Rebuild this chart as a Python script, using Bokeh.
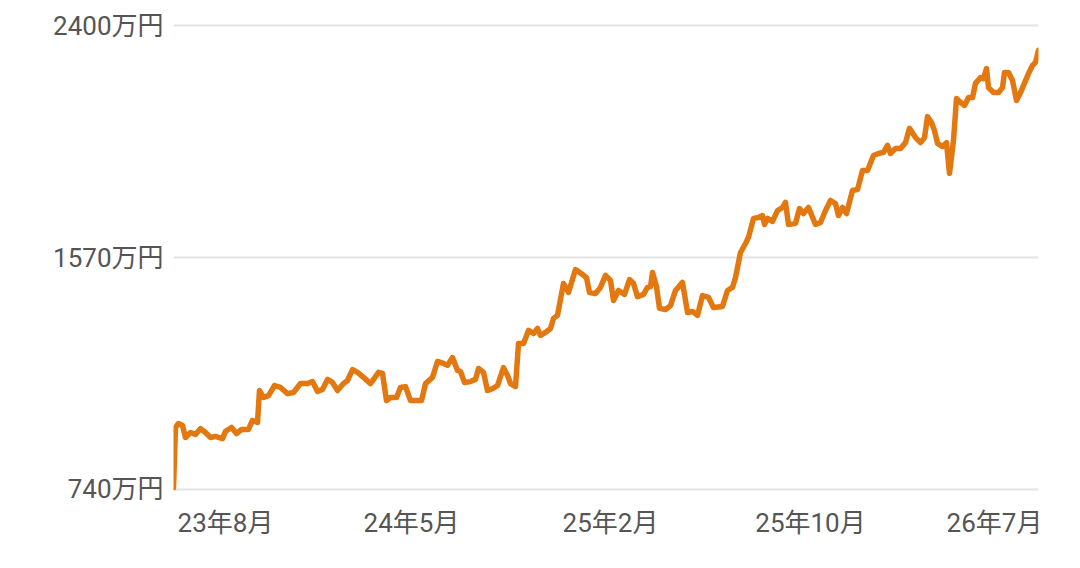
from bokeh.plotting import figure
from bokeh.models import Range1d, FixedTicker, ColumnDataSource
from bokeh.embed import file_html
from bokeh.resources import INLINE

# time index (steps from start of series)
t_a = [0, 2, 5, 9, 12, 17, 22, 27, 32, 37, 42, 49, 52, 58, 63, 68, 75, 79, 84, 86,
       90, 95, 101, 107, 114, 120, 127, 134, 139, 144, 149, 154, 159, 164, 170, 174, 179, 184, 190]
v_a = [747, 962, 976, 969, 926, 944, 937, 958, 944, 926, 930, 922, 948, 962, 940, 955, 955, 987, 980, 1094,
       1069, 1076, 1112, 1105, 1083, 1087, 1119, 1119, 1126, 1091, 1098, 1134, 1123, 1094, 1119, 1130, 1169, 1159, 1141]

t_b = [197, 205, 209, 213, 217, 223, 227, 232, 237, 242, 248, 252, 259, 264, 270, 274, 279, 284, 287, 291,
       297, 302, 305, 310, 314, 319, 324, 330, 334, 337, 342, 345, 350, 355, 360, 364, 367, 372, 377, 380]
v_b = [1119, 1159, 1155, 1058, 1069, 1069, 1105, 1108, 1058, 1058, 1058, 1119, 1141, 1198, 1191, 1184, 1212, 1166, 1162, 1123,
       1126, 1134, 1173, 1159, 1094, 1101, 1112, 1176, 1148, 1119, 1108, 1262, 1262, 1309, 1298, 1316, 1291, 1302, 1316, 1352]

t_c = [384, 390, 395, 402, 409, 413, 416, 422, 427, 432, 437, 440, 445, 451, 456, 460, 464, 470, 474, 477,
       479, 483, 486, 492, 497, 502, 509, 514, 519, 524, 529, 535, 540, 549, 554, 559, 562, 567, 572]
v_c = [1363, 1477, 1445, 1527, 1509, 1498, 1445, 1441, 1463, 1506, 1488, 1416, 1452, 1438, 1491, 1477, 1430, 1438, 1463, 1466,
       1516, 1466, 1388, 1384, 1398, 1452, 1481, 1373, 1377, 1363, 1434, 1427, 1391, 1395, 1452, 1463, 1498, 1588, 1620]

t_d = [575, 580, 585, 589, 591, 594, 599, 604, 609, 612, 615, 622, 626, 630, 635, 642, 647, 652, 657, 662,
       665, 669, 673, 679, 684, 689, 694, 700, 705, 710, 714, 717, 722, 727, 732, 736, 742, 747]
v_d = [1642, 1710, 1713, 1720, 1688, 1710, 1699, 1738, 1749, 1767, 1688, 1692, 1745, 1727, 1749, 1688, 1695, 1738, 1774, 1763,
       1720, 1749, 1727, 1810, 1813, 1881, 1881, 1935, 1942, 1946, 1971, 1942, 1960, 1960, 1981, 2032, 1999, 1981]

t_e = [751, 754, 758, 761, 764, 769, 773, 776, 780, 783, 787, 791, 795, 799, 802, 807, 810, 813, 815, 820,
       825, 829, 831, 835, 839, 843, 847, 852, 855, 859, 862, 865]
v_e = [1999, 2074, 2053, 2024, 1978, 1967, 1981, 1871, 1989, 2139, 2125, 2114, 2142, 2142, 2193, 2214, 2210, 2246, 2178, 2160,
       2160, 2178, 2232, 2232, 2203, 2132, 2160, 2203, 2228, 2257, 2268, 2311]

x_tick_pos = [52, 238, 437, 637, 821]
x_tick_labels = ["23年8月", "24年5月", "25年2月", "25年10月", "26年7月"]
y_ticks = [740, 1570, 2400]
y_tick_labels = ["740万円", "1570万円", "2400万円"]

t = t_a + t_b + t_c + t_d + t_e
v = v_a + v_b + v_c + v_d + v_e
src = ColumnDataSource(data=dict(t=t, v=v))

p = figure(width=1064, height=552, output_backend="svg", toolbar_location=None,
           x_range=Range1d(0, 865), y_range=Range1d(704.2, 2435.8),
           min_border_left=173, min_border_right=26, min_border_top=15, min_border_bottom=53)
p.outline_line_color = None
p.background_fill_color = "white"
p.border_fill_color = "white"

p.line("t", "v", source=src, line_color="#E2780F", line_width=5.5, line_join="round", line_cap="round")

font = "Roboto, Noto Sans CJK JP"
p.xaxis.ticker = FixedTicker(ticks=x_tick_pos)
p.xaxis.major_label_overrides = {k: lab for k, lab in zip(x_tick_pos, x_tick_labels)}
p.yaxis.ticker = FixedTicker(ticks=y_ticks)
p.yaxis.major_label_overrides = {k: lab for k, lab in zip(y_ticks, y_tick_labels)}
for ax in (p.xaxis, p.yaxis):
    ax.axis_line_color = None
    ax.major_tick_line_color = None
    ax.minor_tick_line_color = None
    ax.major_label_text_font = font
    ax.major_label_text_font_size = "26px"
    ax.major_label_text_color = "#555555"
p.xaxis.major_label_standoff = 2
p.yaxis.major_label_standoff = 4

p.xgrid.grid_line_color = None
p.ygrid.grid_line_color = "#e2e2e2"
p.ygrid.grid_line_width = 2

open("out.html", "w").write(file_html(p, INLINE))
